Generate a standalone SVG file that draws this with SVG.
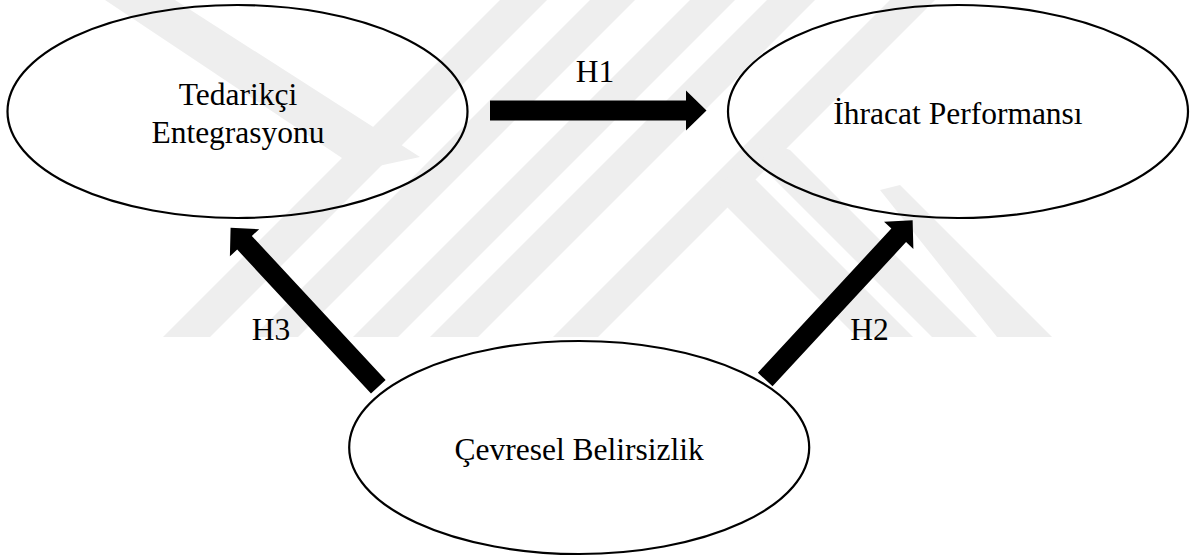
<svg xmlns="http://www.w3.org/2000/svg" width="1192" height="557" viewBox="0 0 1192 557">
  <style>
    .wm { fill: #eeeeee; }
    .node ellipse { fill: none; stroke: #000; stroke-width: 2.2; }
    .label { font-family: "Liberation Serif", "Times New Roman", serif; font-size: 31.5px; fill: #000; text-anchor: middle; }
    .arrow { fill: #000; }
  </style>
  <defs>
    <clipPath id="wmClip"><rect x="0" y="0" width="1192" height="337"/></clipPath>
    <!-- block arrow pointing along +x, tail at origin -->
    <path id="diagArrow" d="M0,-10 H196.5 V-20 L217,0 L196.5,20 V10 H0 Z"/>
  </defs>

  <rect width="1192" height="557" fill="#ffffff"/>

  <!-- background watermark bands -->
  <g id="watermark" class="wm" clip-path="url(#wmClip)">
    <polygon points="105,0 175,0 420,157 360,170"/>
    <polygon points="500,0 547,0 210,337 163,337"/>
    <polygon points="590,0 635,0 298,337 253,337"/>
    <polygon points="690,0 735,0 398,337 353,337"/>
    <polygon points="767,0 815,0 478,337 430,337"/>
    <polygon points="890,0 935,0 598,337 553,337"/>
    <polygon points="738,162 758,182 913,337 857,337 733,213 715,195"/>
    <polygon points="772,143 790,150 977,337 932,337 760,165"/>
    <polygon points="880,190 900,185 1052,337 997,337"/>
  </g>

  <!-- nodes -->
  <g id="node-tedarikci" class="node">
    <ellipse cx="237.5" cy="111.5" rx="230" ry="106.5"/>
    <text class="label" x="238" y="104.5">Tedarikçi</text>
    <text class="label" x="238" y="143">Entegrasyonu</text>
  </g>
  <g id="node-ihracat" class="node">
    <ellipse cx="958" cy="111.5" rx="230" ry="106.5"/>
    <text class="label" x="958" y="123.5">İhracat Performansı</text>
  </g>
  <g id="node-cevresel" class="node">
    <ellipse cx="579.2" cy="447.5" rx="230" ry="106.5"/>
    <text class="label" x="579.2" y="459.5">Çevresel Belirsizlik</text>
  </g>

  <!-- connectors -->
  <g id="connectors" class="arrow">
    <path id="edge-h1" d="M490,100.5 H686 V90.5 L706.5,110.5 L686,130.5 V120.5 H490 Z"/>
    <use id="edge-h3" href="#diagArrow" transform="translate(378.3,386.7) rotate(-132.9)"/>
    <use id="edge-h2" href="#diagArrow" transform="translate(765.2,379.5) rotate(-47.2)"/>
  </g>

  <!-- connector labels -->
  <g id="edge-labels">
    <text class="label" x="595" y="81.5">H1</text>
    <text class="label" x="271" y="340">H3</text>
    <text class="label" x="869.5" y="340">H2</text>
  </g>
</svg>
